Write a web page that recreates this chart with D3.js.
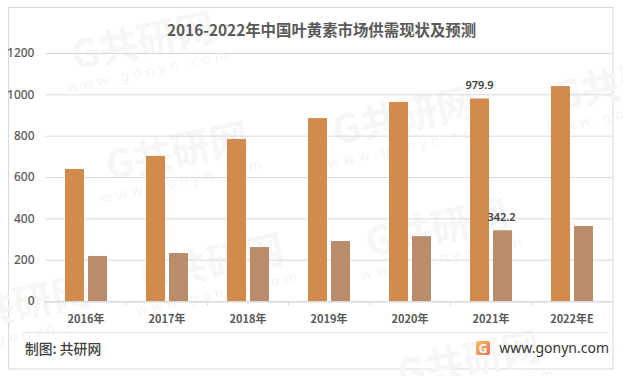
<!DOCTYPE html>
<html>
<head>
<meta charset="utf-8">
<script src="https://cdn.jsdelivr.net/npm/d3@7"></script>
<style>
  html, body { margin: 0; padding: 0; background: #fff; }
  svg { display: block; }
  text { font-family: "Noto Sans CJK SC", "Noto Sans", sans-serif; }
</style>
</head>
<body>
<div id="container"></div>
<script>
let w = 623;
let h = 376;

// values
let years = ["2016年", "2017年", "2018年", "2019年", "2020年", "2021年", "2022年E"];
let seriesNames = ["supply", "demand"];
let supply = [639, 702, 784, 885, 963, 979.9, 1040];
let demand = [218, 232, 261, 290, 314, 342.2, 363];
let yTicks = [0, 200, 400, 600, 800, 1000, 1200];
let labelYear = "2021年";
let seriesColors = ["#d18b4d", "#b98d6c"];

let viz = d3.select("#container").append("svg")
    .attr("width", w)
    .attr("height", h)
    .style("background-color", "white");

// frame
viz.append("rect")
    .attr("x", 8.5).attr("y", 7.5)
    .attr("width", 604.5).attr("height", 361.5)
    .attr("fill", "white")
    .attr("stroke", "#d9d9d9").attr("stroke-width", 1);

// watermark, goes under everything
let marks = [[146, 55], [180, 165], [407, 130], [215, 277], [440, 242], [472, 374], [22, 318], [628, 96]];
let wm = viz.selectAll(".wm").data(marks).enter().append("g")
    .attr("class", "wm")
    .attr("transform", d => "translate(" + d[0] + "," + d[1] + ") rotate(-12)");
wm.append("text")
    .attr("text-anchor", "middle")
    .attr("font-size", 39).attr("font-weight", 700)
    .attr("fill", "#f6f6f6")
    .text("G共研网");
wm.append("text")
    .attr("text-anchor", "middle")
    .attr("y", 21)
    .attr("font-size", 14)
    .attr("letter-spacing", 4.5)
    .attr("fill", "#f4f4f4")
    .style("font-family", '"Noto Sans", sans-serif')
    .text("www.gonyn.com");

let xPos = d3.scaleBand().domain(years).range([45.5, 612.5]);
let xInner = d3.scaleBand().domain(seriesNames).range([0, xPos.bandwidth()])
    .paddingInner(0.174).paddingOuter(0.848);
let yScale = d3.scaleLinear().domain([0, 1200]).range([301, 53]);

// gridlines + y labels
let yAxis = d3.axisLeft(yScale).tickValues(yTicks).tickFormat(d3.format("d"))
    .tickSize(-(612 - 45.5)).tickPadding(11);
let yAxisGroup = viz.append("g").attr("class", "yAxis")
    .attr("transform", "translate(45.5, 0)")
    .call(yAxis);
yAxisGroup.select(".domain").remove();
yAxisGroup.selectAll("line").attr("stroke", "#d9d9d9");
yAxisGroup.selectAll("text")
    .attr("fill", "#595959").attr("font-size", 12).attr("font-weight", 500)
    .style("font-family", '"Noto Sans", sans-serif');

// bars
let rows = years.map((y, i) => ({ year: y, values: [supply[i], demand[i]] }));
let groups = viz.selectAll(".year").data(rows).enter().append("g")
    .attr("class", "year")
    .attr("transform", d => "translate(" + xPos(d.year) + ",0)");
groups.selectAll("rect").data(d => d.values).enter().append("rect")
    .attr("x", (d, i) => xInner(seriesNames[i]))
    .attr("y", d => yScale(d))
    .attr("width", xInner.bandwidth())
    .attr("height", d => yScale(0) - yScale(d))
    .attr("fill", (d, i) => seriesColors[i]);

// x axis
let xAxis = d3.axisBottom(xPos).tickSize(0).tickPadding(14);
let xAxisGroup = viz.append("g").attr("class", "xAxis")
    .attr("transform", "translate(0, 301.5)")
    .call(xAxis);
xAxisGroup.select(".domain").attr("stroke", "#d9d9d9");
xAxisGroup.selectAll(".tick text")
    .attr("fill", "#595959").attr("font-size", 11).attr("font-weight", 700);
xAxisGroup.selectAll(".sep").data(years).enter().append("line")
    .attr("class", "sep")
    .attr("x1", d => xPos(d)).attr("x2", d => xPos(d))
    .attr("y1", 0).attr("y2", 4)
    .attr("stroke", "#d9d9d9");

// data labels on 2021 only
let li = years.indexOf(labelYear);
viz.append("text")
    .attr("x", xPos(labelYear) + xInner("supply") + xInner.bandwidth() / 2)
    .attr("y", yScale(supply[li]) - 9)
    .attr("text-anchor", "middle")
    .attr("font-size", 11).attr("font-weight", 600).attr("fill", "#404040")
    .style("font-family", '"Noto Sans", sans-serif')
    .text(supply[li]);
viz.append("text")
    .attr("x", xPos(labelYear) + xInner("demand") + xInner.bandwidth() / 2 - 1)
    .attr("y", yScale(demand[li]) - 9)
    .attr("text-anchor", "middle")
    .attr("font-size", 11).attr("font-weight", 600).attr("fill", "#404040")
    .style("font-family", '"Noto Sans", sans-serif')
    .text(demand[li]);

// title
viz.append("text")
    .attr("x", 321.5).attr("y", 36)
    .attr("text-anchor", "middle")
    .attr("font-size", 15.4).attr("font-weight", 700).attr("fill", "#595959")
    .text("2016-2022年中国叶黄素市场供需现状及预测");

// footer
viz.append("line")
    .attr("x1", 25).attr("x2", 609).attr("y1", 332.5).attr("y2", 332.5)
    .attr("stroke", "#e4e4e4");
viz.append("text")
    .attr("x", 25).attr("y", 354)
    .attr("font-size", 13.8).attr("font-weight", 500).attr("fill", "#404040")
    .text("制图: 共研网");

// little logo
let grad = viz.append("defs").append("linearGradient").attr("id", "logoGrad")
    .attr("x1", 0).attr("y1", 0).attr("x2", 1).attr("y2", 1);
grad.append("stop").attr("offset", 0).attr("stop-color", "#f8c25c");
grad.append("stop").attr("offset", 1).attr("stop-color", "#ea6f55");
viz.append("rect")
    .attr("x", 476).attr("y", 341).attr("width", 14).attr("height", 14).attr("rx", 2)
    .attr("fill", "url(#logoGrad)");
viz.append("text")
    .attr("x", 483).attr("y", 352.5)
    .attr("text-anchor", "middle")
    .attr("font-size", 12).attr("font-weight", 700).attr("fill", "white")
    .style("font-family", '"Noto Sans", sans-serif')
    .text("G");
viz.append("text")
    .attr("x", 609).attr("y", 353)
    .attr("text-anchor", "end")
    .attr("font-size", 14).attr("fill", "#333333")
    .style("font-family", '"Noto Sans", sans-serif')
    .text("www.gonyn.com");
</script>
</body>
</html>
